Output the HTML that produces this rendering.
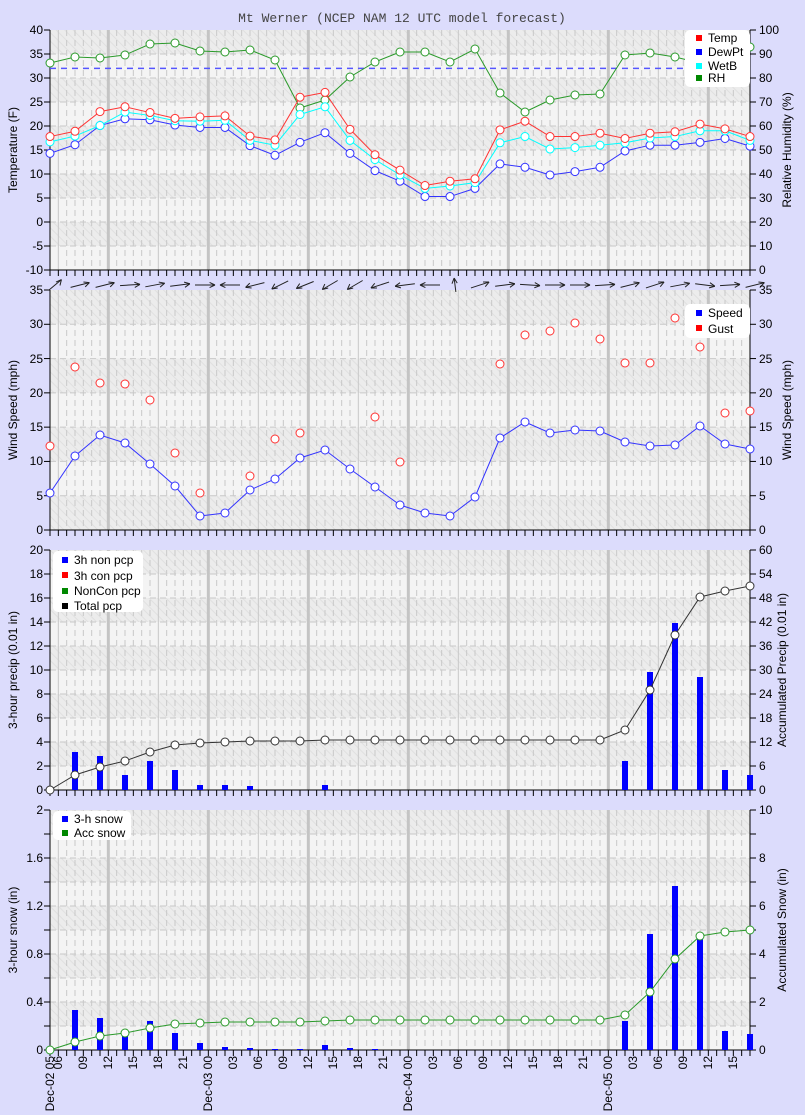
<!DOCTYPE html>
<html><head><meta charset="utf-8"><style>
html,body{margin:0;padding:0;background:#dcdcfc;}
svg{display:block;font-family:"Liberation Sans","DejaVu Sans",sans-serif;font-size:12px;}
.t{font-family:"Liberation Mono",monospace;font-size:13px;fill:#444;}
.l{text-anchor:end;}
</style></head><body>
<svg id="s" width="805" height="1115" viewBox="0 0 805 1115" xmlns="http://www.w3.org/2000/svg">
<defs>
<pattern id="h" width="6" height="6" patternUnits="userSpaceOnUse" patternTransform="rotate(-45)">
<rect width="6" height="6" fill="#ececec"/><line x1="0" y1="0" x2="0" y2="6" stroke="#e0e0e0" stroke-width="2"/></pattern>
</defs>
<rect width="805" height="1115" fill="#dcdcfc"/>
<g id="g"></g>
<text class="t" x="402" y="22" text-anchor="middle">Mt Werner (NCEP NAM 12 UTC model forecast)</text>
<g class="l">
<text x="43" y="34">40</text><text x="43" y="58">35</text><text x="43" y="82">30</text><text x="43" y="106">25</text><text x="43" y="130">20</text><text x="43" y="154">15</text><text x="43" y="178">10</text><text x="43" y="202">5</text><text x="43" y="226">0</text><text x="43" y="250">-5</text><text x="43" y="274">-10</text>
<text x="43" y="294">35</text><text x="43" y="328">30</text><text x="43" y="363">25</text><text x="43" y="397">20</text><text x="43" y="431">15</text><text x="43" y="465">10</text><text x="43" y="500">5</text><text x="43" y="534">0</text>
<text x="43" y="554">20</text><text x="43" y="578">18</text><text x="43" y="602">16</text><text x="43" y="626">14</text><text x="43" y="650">12</text><text x="43" y="674">10</text><text x="43" y="698">8</text><text x="43" y="722">6</text><text x="43" y="746">4</text><text x="43" y="770">2</text><text x="43" y="794">0</text>
<text x="43" y="814">2</text><text x="43" y="862">1.6</text><text x="43" y="910">1.2</text><text x="43" y="958">0.8</text><text x="43" y="1006">0.4</text><text x="43" y="1054">0</text>
</g>
<g>
<text x="759" y="34">100</text><text x="759" y="58">90</text><text x="759" y="82">80</text><text x="759" y="106">70</text><text x="759" y="130">60</text><text x="759" y="154">50</text><text x="759" y="178">40</text><text x="759" y="202">30</text><text x="759" y="226">20</text><text x="759" y="250">10</text><text x="759" y="274">0</text>
<text x="759" y="294">35</text><text x="759" y="328">30</text><text x="759" y="363">25</text><text x="759" y="397">20</text><text x="759" y="431">15</text><text x="759" y="465">10</text><text x="759" y="500">5</text><text x="759" y="534">0</text>
<text x="759" y="554">60</text><text x="759" y="578">54</text><text x="759" y="602">48</text><text x="759" y="626">42</text><text x="759" y="650">36</text><text x="759" y="674">30</text><text x="759" y="698">24</text><text x="759" y="722">18</text><text x="759" y="746">12</text><text x="759" y="770">6</text><text x="759" y="794">0</text>
<text x="759" y="814">10</text><text x="759" y="862">8</text><text x="759" y="910">6</text><text x="759" y="958">4</text><text x="759" y="1006">2</text><text x="759" y="1054">0</text>
</g>
<g text-anchor="middle">
<text transform="translate(17,150) rotate(-90)">Temperature (F)</text>
<text transform="translate(791,150) rotate(-90)">Relative Humidity (%)</text>
<text transform="translate(17,410) rotate(-90)">Wind Speed (mph)</text>
<text transform="translate(791,410) rotate(-90)">Wind Speed (mph)</text>
<text transform="translate(17,670) rotate(-90)">3-hour precip (0.01 in)</text>
<text transform="translate(786,670) rotate(-90)">Accumulated Precip (0.01 in)</text>
<text transform="translate(17,930) rotate(-90)">3-hour snow (in)</text>
<text transform="translate(786,930) rotate(-90)">Accumulated Snow (in)</text>
</g>
<g class="l">
<text transform="translate(54,1056) rotate(-90)">Dec-02 05</text>
<text transform="translate(62,1056) rotate(-90)">06</text>
<text transform="translate(87,1056) rotate(-90)">09</text>
<text transform="translate(112,1056) rotate(-90)">12</text>
<text transform="translate(137,1056) rotate(-90)">15</text>
<text transform="translate(162,1056) rotate(-90)">18</text>
<text transform="translate(187,1056) rotate(-90)">21</text>
<text transform="translate(212,1056) rotate(-90)">Dec-03 00</text>
<text transform="translate(237,1056) rotate(-90)">03</text>
<text transform="translate(262,1056) rotate(-90)">06</text>
<text transform="translate(287,1056) rotate(-90)">09</text>
<text transform="translate(312,1056) rotate(-90)">12</text>
<text transform="translate(337,1056) rotate(-90)">15</text>
<text transform="translate(362,1056) rotate(-90)">18</text>
<text transform="translate(387,1056) rotate(-90)">21</text>
<text transform="translate(412,1056) rotate(-90)">Dec-04 00</text>
<text transform="translate(437,1056) rotate(-90)">03</text>
<text transform="translate(462,1056) rotate(-90)">06</text>
<text transform="translate(487,1056) rotate(-90)">09</text>
<text transform="translate(512,1056) rotate(-90)">12</text>
<text transform="translate(537,1056) rotate(-90)">15</text>
<text transform="translate(562,1056) rotate(-90)">18</text>
<text transform="translate(587,1056) rotate(-90)">21</text>
<text transform="translate(612,1056) rotate(-90)">Dec-05 00</text>
<text transform="translate(637,1056) rotate(-90)">03</text>
<text transform="translate(662,1056) rotate(-90)">06</text>
<text transform="translate(687,1056) rotate(-90)">09</text>
<text transform="translate(712,1056) rotate(-90)">12</text>
<text transform="translate(737,1056) rotate(-90)">15</text>
</g>
<g id="leg">
<rect x="685" y="30" width="65" height="57" rx="5" fill="#fff"/>
<rect x="696" y="35" width="6" height="6" fill="#f00"/><text x="708" y="42">Temp</text>
<rect x="696" y="49" width="6" height="6" fill="#00f"/><text x="708" y="56">DewPt</text>
<rect x="696" y="63" width="6" height="6" fill="#0ff"/><text x="708" y="70">WetB</text>
<rect x="696" y="75" width="6" height="6" fill="#080"/><text x="708" y="82">RH</text>
<rect x="685" y="304" width="65" height="34" rx="5" fill="#fff"/>
<rect x="696" y="310" width="6" height="6" fill="#00f"/><text x="708" y="317">Speed</text>
<rect x="696" y="325" width="6" height="6" fill="#f00"/><text x="708" y="333">Gust</text>
<rect x="53" y="551" width="90" height="61" rx="5" fill="#fff"/>
<rect x="62" y="557" width="6" height="6" fill="#00f"/><text x="74" y="564">3h non pcp</text>
<rect x="62" y="572" width="6" height="6" fill="#f00"/><text x="74" y="580">3h con pcp</text>
<rect x="62" y="588" width="6" height="6" fill="#080"/><text x="74" y="595">NonCon pcp</text>
<rect x="62" y="603" width="6" height="6" fill="#000"/><text x="74" y="610">Total pcp</text>
<rect x="53" y="811" width="78" height="29" rx="5" fill="#fff"/>
<rect x="62" y="816" width="6" height="6" fill="#00f"/><text x="74" y="823">3-h snow</text>
<rect x="62" y="830" width="6" height="6" fill="#080"/><text x="74" y="837">Acc snow</text>
</g>
</svg>
<script>
var NS="http://www.w3.org/2000/svg",G=document.getElementById("g");
function E(t,a,p){var e=document.createElementNS(NS,t);for(var k in a)e.setAttribute(k,a[k]);(p||G).appendChild(e);return e;}
function X(i){return 50+25*i;}
function panel(top,step){
 var b=top+240;
 E("rect",{x:50,y:top,width:700,height:240,fill:"#f4f4f4"});
 for(var y=top;y<b-0.1;y+=step*2){E("rect",{x:50,y:y,width:700,height:Math.min(step,b-y),fill:"url(#h)"});}
 for(var y=top+step;y<b-0.5;y+=step)E("line",{x1:50,x2:750,y1:y,y2:y,stroke:"#c8c8c8","stroke-dasharray":"6,4"});
 for(var j=0;j<84;j++){var x=58.333+j*8.3333,h=(6+j)%24;
  if(h%12==0)E("line",{x1:x,x2:x,y1:top,y2:b,stroke:"#c4c4c4","stroke-width":3});
  else if(h%6==0)E("line",{x1:x,x2:x,y1:top,y2:b,stroke:"#c8c8c8"});
  else E("line",{x1:x,x2:x,y1:top,y2:b,stroke:"#c8c8c8","stroke-dasharray":"6,4"});
 }
 for(var j=-1;j<84;j++){var x=58.333+j*8.3333;E("line",{x1:x,x2:x,y1:b,y2:b+6,stroke:"#000"});}
 E("line",{x1:50,x2:750,y1:b,y2:b,stroke:"#000"});
 E("line",{x1:50,x2:50,y1:top,y2:b,stroke:"#000"});
 E("line",{x1:750,x2:750,y1:top,y2:b,stroke:"#000"});
}
function ticks(ys){ys.forEach(function(y){E("line",{x1:44,x2:50,y1:y,y2:y,stroke:"#000"});E("line",{x1:750,x2:756,y1:y,y2:y,stroke:"#000"});});}
function rng(a,b,s){var r=[];for(var y=a;y<=b+0.1;y+=s)r.push(y);return r;}
function series(ys,col,idx,line){
 var pts=[];ys.forEach(function(y,i){var ii=idx?idx[i]:i;pts.push(X(ii)+","+y);});
 if(line!==false)E("polyline",{points:pts.join(" "),fill:"none",stroke:col});
 ys.forEach(function(y,i){var ii=idx?idx[i]:i;E("circle",{cx:X(ii),cy:y,r:4,fill:"#fff",stroke:col});});
}
function bars(d,top,col){d.forEach(function(p){E("rect",{x:X(p[0])-3,y:p[1],width:6,height:top-p[1],fill:col});});}
panel(30,24);panel(290,34.286);panel(550,24);panel(810,24);
ticks(rng(30,270,24));ticks(rng(290,530,34.286));ticks(rng(550,790,24));ticks(rng(810,1050,24));
function T(v){return 270-(v+10)*4.8;}
E("line",{x1:50,x2:750,y1:68.4,y2:68.4,stroke:"#55f","stroke-width":1.5,"stroke-dasharray":"6,5"});
var rh=[63,57,58,55,44,43,51,52,50,60,108,100,77,62,52,52,62,49,93,112,100,95,94,55,53,57,63,56,47];
series(rh,"#2a9a2a");
series([14.3,16.1,20.1,21.5,21.3,20.2,19.7,19.7,15.9,13.9,16.6,18.6,14.3,10.7,8.5,5.3,5.3,7,12.1,11.4,9.8,10.5,11.4,14.8,16,16,16.6,17.4,15.8].map(T),"#33f");
series([16.7,17.9,20.1,22.9,22.2,21.1,21,21.2,17,16,22.4,24,17,13,9.8,7,7.5,8.2,16.5,17.8,15.2,15.5,16,16.5,17.5,17.8,19,19,17].map(T),"#0ff");
series([17.8,18.9,23,24,22.8,21.6,21.9,22.1,17.9,17.1,26,27,19.3,14,10.8,7.6,8.5,9,19.2,21,17.8,17.8,18.5,17.4,18.5,18.8,20.4,19.4,17.8].map(T),"#f33");
var ang=[-50,-20,-20,-5,-15,-10,0,180,160,145,150,140,140,155,170,180,-95,-25,-10,5,0,0,-5,-20,-25,-15,10,-5,-20];
ang.forEach(function(a,i){var r=a*Math.PI/180,cx=X(i)+5,cy=285,dx=Math.cos(r)*10,dy=Math.sin(r)*7;
 var x2=cx+dx,y2=cy+dy;E("line",{x1:cx-dx,y1:cy-dy,x2:x2,y2:y2,stroke:"#222"});
 [0.45,-0.45].forEach(function(o){E("line",{x1:x2,y1:y2,x2:x2-Math.cos(r+o)*6,y2:y2-Math.sin(r+o)*6,stroke:"#222"});});});
series([493,456,435,443,464,486,516,513,490,479,458,450,469,487,505,513,516,497,438,422,433,430,431,442,446,445,426,444,449],"#33f");
series([446,367,383,384,400,453,493,476,439,433,417,462,364,335,331,323,339,363,363,318,347,413,411],"#f33",[0,1,2,3,4,5,6,8,9,10,13,14,18,19,20,21,22,23,24,25,26,27,28],false);
bars([[1,752],[2,756],[3,775],[4,761],[5,770],[6,785],[7,785],[8,786],[11,785],[23,761],[24,672],[25,623],[26,677],[27,770],[28,775]],790,"#00f");
series([790,775,767,761,752,745,743,742,741,741,741,740,740,740,740,740,740,740,740,740,740,740,740,730,690,635,597,591,586],"#333");
bars([[1,1010],[2,1018],[3,1035],[4,1021],[5,1033],[6,1043],[7,1047],[8,1048],[9,1049],[10,1049],[11,1045],[12,1048],[13,1049],[23,1021],[24,934],[25,886],[26,935],[27,1031],[28,1034]],1050,"#00f");
series([1050,1042,1036,1033,1028,1024,1023,1022,1022,1022,1022,1021,1020,1020,1020,1020,1020,1020,1020,1020,1020,1020,1020,1015,992,959,936,932,930],"#2a9a2a");
</script>
</body></html>
